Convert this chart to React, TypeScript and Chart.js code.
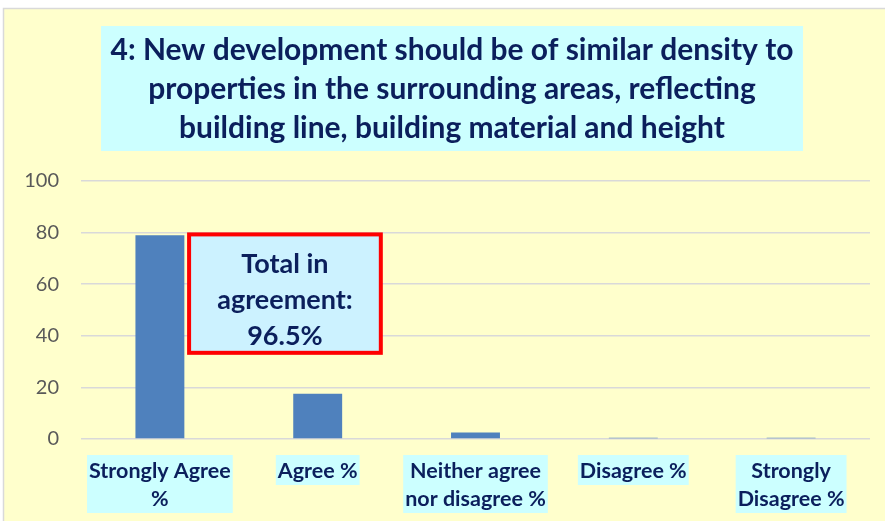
import React, { useEffect, useRef } from "react";
import { Chart, registerables } from "chart.js";
Chart.register(...registerables);

const categories: string[][] = [
  ["Strongly Agree", "%"],
  ["Agree %"],
  ["Neither agree", "nor disagree %"],
  ["Disagree %"],
  ["Strongly", "Disagree %"],
];
const values = [79, 17.5, 2.5, 0.5, 0.5];
const yMin = 0;
const yMax = 100;
const yStep = 20;
const titleLines = [
  "4: New development should be of similar density to",
  "properties in the surrounding areas, reflecting",
  "building line, building material and height",
];
const calloutLines = ["Total in", "agreement:", "96.5%"];

const NAVY = "#0B1F5C";
const FONT = "Lato, 'Open Sans', sans-serif";

export default function App() {
  const ref = useRef<HTMLCanvasElement | null>(null);
  useEffect(() => {
    const canvas = ref.current!;
    const bgPlugin = {
      id: "bg",
      beforeDraw(chart: any) {
        const c = chart.ctx;
        c.save();
        c.fillStyle = "#ffffff";
        c.fillRect(0, 0, chart.width, chart.height);
        c.fillStyle = "#FFFFCC";
        c.fillRect(3, 8, chart.width - 3, chart.height - 8);
        c.strokeStyle = "#D9D9D9";
        c.lineWidth = 1.5;
        c.beginPath();
        c.moveTo(3.5, chart.height);
        c.lineTo(3.5, 8.5);
        c.lineTo(chart.width, 8.5);
        c.stroke();
        // title
        c.fillStyle = "#CCFFFF";
        c.fillRect(101, 26, 702, 125);
        c.fillStyle = NAVY;
        c.textAlign = "center";
        c.textBaseline = "middle";
        let size = 30;
        c.font = `bold ${size}px ${FONT}`;
        const w = c.measureText(titleLines[0]).width;
        size = size * (683 / w);
        c.font = `bold ${size}px ${FONT}`;
        const cx = 452;
        titleLines.forEach((l, i) => c.fillText(l, cx, 50 + i * 39));
        c.restore();
      },
    };
    const xLabelPlugin = {
      id: "xlabels",
      afterDraw(chart: any) {
        const c = chart.ctx;
        const xs = chart.scales.x;
        const base = chart.chartArea.bottom;
        c.save();
        c.font = `bold 21.5px ${FONT}`;
        c.textAlign = "center";
        c.textBaseline = "middle";
        categories.forEach((lines, i) => {
          const cx = xs.getPixelForValue(i);
          const mw = Math.max(...lines.map((l) => c.measureText(l).width));
          const top = base + 16;
          const h = lines.length * 28 + 2;
          c.fillStyle = "#CCFFFF";
          c.fillRect(cx - mw / 2 - 2, top, mw + 4, h);
          c.fillStyle = NAVY;
          lines.forEach((l, j) => c.fillText(l, cx, base + 32 + j * 28));
        });
        c.restore();
      },
    };
    const calloutPlugin = {
      id: "callout",
      afterDatasetsDraw(chart: any) {
        const c = chart.ctx;
        const a = chart.chartArea;
        const ys = chart.scales.y;
        const w = a.right - a.left;
        const x0 = a.left + 0.137 * w;
        const x1 = a.left + 0.38 * w;
        const y0 = ys.getPixelForValue(79.3);
        const y1 = ys.getPixelForValue(33.4);
        c.save();
        c.fillStyle = "#CCF2FF";
        c.fillRect(x0, y0, x1 - x0, y1 - y0);
        c.strokeStyle = "#FF0000";
        c.lineWidth = 4;
        c.strokeRect(x0, y0, x1 - x0, y1 - y0);
        c.fillStyle = NAVY;
        c.font = `bold 27px ${FONT}`;
        c.textAlign = "center";
        c.textBaseline = "middle";
        const cx = (x0 + x1) / 2;
        calloutLines.forEach((l, i) => c.fillText(l, cx, y0 + 30 + i * 36));
        c.restore();
      },
    };
    const chart = new Chart(canvas, {
      type: "bar",
      data: {
        labels: categories,
        datasets: [
          {
            data: values,
            backgroundColor: "#4F81BD",
            borderWidth: 0,
            barPercentage: 0.31,
            categoryPercentage: 1,
          },
        ],
      },
      options: {
        responsive: false,
        animation: false,
        layout: { padding: { top: 181, right: 15, left: 0, bottom: 0 } },
        plugins: {
          legend: { display: false },
          title: { display: false },
          tooltip: { enabled: false },
        },
        scales: {
          x: {
            grid: { display: false },
            border: { display: false },
            afterFit(scale: any) {
              scale.height = 82;
            },
            ticks: { display: false },
          },
          y: {
            min: yMin,
            max: yMax,
            afterFit(scale: any) {
              scale.width = 81;
            },
            grid: { color: "#D9D9D9", lineWidth: 1.5, drawTicks: false },
            border: { display: false },
            ticks: {
              stepSize: yStep,
              padding: 22,
              color: "#595959",
              font: { family: FONT, size: 20 },
            },
          },
        },
      },
      plugins: [bgPlugin, calloutPlugin, xLabelPlugin],
    } as any);
    return () => chart.destroy();
  }, []);
  return (
    <div style={{ position: "fixed", left: 0, top: 0, width: 885, height: 521 }}>
      <canvas ref={ref} width={885} height={521} />
    </div>
  );
}
